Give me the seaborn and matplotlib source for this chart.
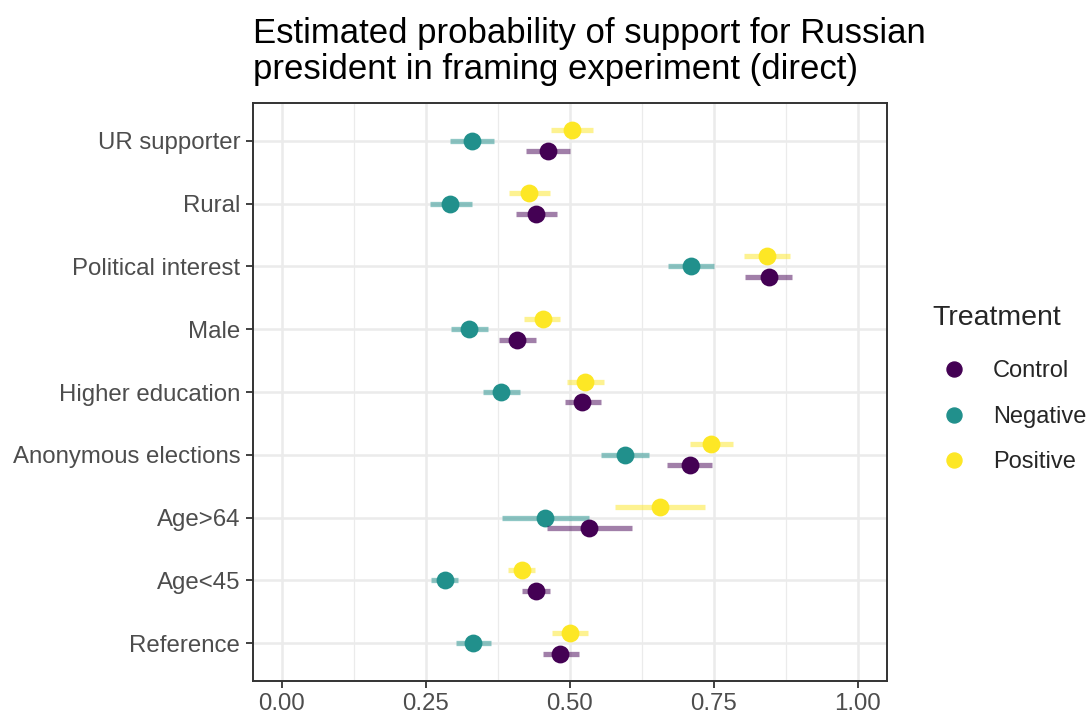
import numpy as np
import pandas as pd
import matplotlib
matplotlib.use('Agg')
import matplotlib.pyplot as plt
from matplotlib.lines import Line2D
import seaborn as sns

# ── Data ───────────────────────────────────────────────────────────────────
categories = ['UR supporter', 'Rural', 'Political interest', 'Male',
              'Higher education', 'Anonymous elections', 'Age>64', 'Age<45',
              'Reference']
treatments = ['Control', 'Negative', 'Positive']

control_est = [0.462, 0.442, 0.846, 0.409, 0.522, 0.708, 0.534, 0.442, 0.484]
control_lo  = [0.424, 0.407, 0.805, 0.377, 0.491, 0.669, 0.460, 0.418, 0.453]
control_hi  = [0.500, 0.478, 0.886, 0.441, 0.555, 0.747, 0.608, 0.466, 0.516]

negative_est = [0.330, 0.293, 0.710, 0.326, 0.381, 0.596, 0.458, 0.283, 0.333]
negative_lo  = [0.293, 0.257, 0.670, 0.294, 0.350, 0.555, 0.382, 0.259, 0.302]
negative_hi  = [0.368, 0.330, 0.751, 0.359, 0.414, 0.638, 0.534, 0.307, 0.364]

positive_est = [0.504, 0.430, 0.842, 0.453, 0.527, 0.746, 0.657, 0.417, 0.500]
positive_lo  = [0.467, 0.394, 0.802, 0.420, 0.496, 0.709, 0.578, 0.393, 0.469]
positive_hi  = [0.541, 0.466, 0.883, 0.484, 0.559, 0.784, 0.735, 0.440, 0.532]

x_ticks = [0.0, 0.25, 0.5, 0.75, 1.0]
x_ticklabels = ['0.00', '0.25', '0.50', '0.75', '1.00']

# ── Style ──────────────────────────────────────────────────────────────────
PALETTE = {'Control': '#440154', 'Negative': '#21908C', 'Positive': '#FDE725'}
GRID = '#EBEBEB'
DARK = '#333333'
TEXT = '#4D4D4D'

sns.set_theme(style='whitegrid')
plt.rcParams['font.family'] = ['Liberation Sans', 'DejaVu Sans']

# long table: lo / est / hi per estimate -> median = est, full range = CI
rows = []
series = {'Control': (control_lo, control_est, control_hi),
          'Negative': (negative_lo, negative_est, negative_hi),
          'Positive': (positive_lo, positive_est, positive_hi)}
for trt, (lo, est, hi) in series.items():
    for cat, a, b, c in zip(categories, lo, est, hi):
        for v in (a, b, c):
            rows.append({'category': cat, 'treatment': trt, 'value': v})
df = pd.DataFrame(rows)

fig = plt.figure(figsize=(10.9, 7.15), dpi=100)
ax = fig.add_axes([252.7 / 1090, 1 - 681 / 715,
                   (886.7 - 252.7) / 1090, (681 - 103) / 715])

sns.pointplot(data=df, x='value', y='category', hue='treatment',
              order=categories, hue_order=['Positive', 'Negative', 'Control'],
              palette=PALETTE, estimator='median', errorbar=('pi', 100),
              dodge=1 / 3, linestyle='none', markersize=10.8,
              err_kws={'alpha': 0.5, 'linewidth': 3.8,
                       'solid_capstyle': 'butt'},
              orient='h', ax=ax)

ax.set_xlim(-0.05, 1.05)
ax.set_ylim(len(categories) - 1 + 0.6, -0.6)
ax.set_xticks(x_ticks)
ax.set_xticklabels(x_ticklabels)
ax.set_xticks([0.125, 0.375, 0.625, 0.875], minor=True)
ax.set_xlabel('')
ax.set_ylabel('')

ax.grid(True, which='major', axis='both', color=GRID, linewidth=1.8)
ax.grid(True, which='minor', axis='x', color=GRID, linewidth=0.9)
ax.set_axisbelow(True)
for sp in ax.spines.values():
    sp.set_visible(True)
    sp.set_color(DARK)
    sp.set_linewidth(1.4)
ax.tick_params(axis='both', which='major', length=5, width=1.3,
               color=DARK, labelcolor=TEXT, labelsize=17.3, pad=4,
               left=True, bottom=True)
ax.tick_params(axis='x', which='major', pad=3.5)
ax.tick_params(axis='both', which='minor', length=0)

if ax.get_legend() is not None:
    ax.get_legend().remove()

handles = [Line2D([], [], marker='o', linestyle='none', markersize=10.8,
                  color=PALETTE[t]) for t in treatments]
leg = fig.legend(handles, treatments, title='Treatment', loc='upper left',
                 bbox_to_anchor=(932 / 1090, 1 - 305 / 715), frameon=False,
                 fontsize=17, title_fontsize=20.5, handlelength=1.86,
                 handletextpad=0.72, labelspacing=1.0, borderpad=0,
                 borderaxespad=0, alignment='left')
leg._legend_box.sep = 21  # a bit more room under the legend title

fig.text(252.7 / 1090, 1 - 17 / 715,
         'Estimated probability of support for Russian\n'
         'president in framing experiment (direct)',
         ha='left', va='top', fontsize=25, color='black', linespacing=1.1)

fig.savefig('out.png', dpi=100)
